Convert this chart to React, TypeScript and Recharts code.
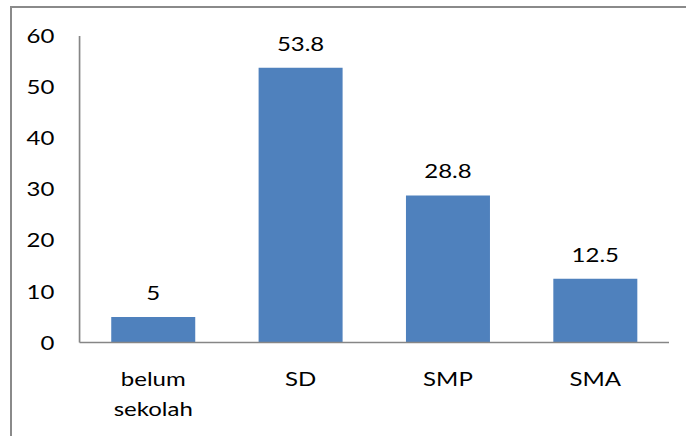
import { BarChart, Bar, XAxis, YAxis, LabelList } from "recharts";

const categories = ["belum sekolah", "SD", "SMP", "SMA"];
const values = [5, 53.8, 28.8, 12.5];
const yTicks = [0, 10, 20, 30, 40, 50, 60];

const data = categories.map((name, i) => ({ name, value: values[i] }));

// the original picture is stretched sideways, so the chart is drawn narrow and scaled
const STRETCH = 1.2;
const FONT = "Lato, 'Open Sans', sans-serif";

function CategoryTick({ x, y, payload }: any) {
  const words = String(payload.value).split(" ");
  return (
    <text x={x} y={y + 44} textAnchor="middle" fill="#000" fontSize={20} fontFamily={FONT}>
      {words.map((w, i) => (
        <tspan key={i} x={x} dy={i === 0 ? 0 : 30}>
          {w}
        </tspan>
      ))}
    </text>
  );
}

export default function App() {
  return (
    <div
      style={{
        position: "fixed",
        left: 0,
        top: 0,
        width: 686,
        height: 436,
        overflow: "hidden",
        background: "#fff",
      }}
    >
      <div
        style={{
          position: "absolute",
          left: 10,
          top: 6,
          width: 700,
          height: 460,
          border: "2px solid #8a8a8a",
        }}
      />
      <div
        style={{
          position: "absolute",
          left: 0,
          top: 0,
          transform: `scaleX(${STRETCH})`,
          transformOrigin: "0 0",
        }}
      >
        <BarChart
          width={572}
          height={436}
          data={data}
          margin={{ top: 36, right: 14.5, left: 6.3, bottom: 33.5 }}
          barCategoryGap="21.5%"
        >
          <XAxis
            dataKey="name"
            height={60}
            tickLine={false}
            tickSize={0}
            tickMargin={0}
            axisLine={{ stroke: "#868686", strokeWidth: 1.5 }}
            tick={CategoryTick}
            interval={0}
          />
          <YAxis
            domain={[0, 60]}
            ticks={yTicks}
            width={60}
            tickLine={false}
            tickSize={0}
            tickMargin={21}
            axisLine={{ stroke: "#868686", strokeWidth: 1.4 }}
            tick={{ fill: "#000", fontSize: 20, fontFamily: FONT }}
          />
          <Bar dataKey="value" fill="#4f81bd" isAnimationActive={false}>
            <LabelList
              dataKey="value"
              position="top"
              offset={17}
              fill="#000"
              fontSize={20}
              fontFamily={FONT}
            />
          </Bar>
        </BarChart>
      </div>
    </div>
  );
}
